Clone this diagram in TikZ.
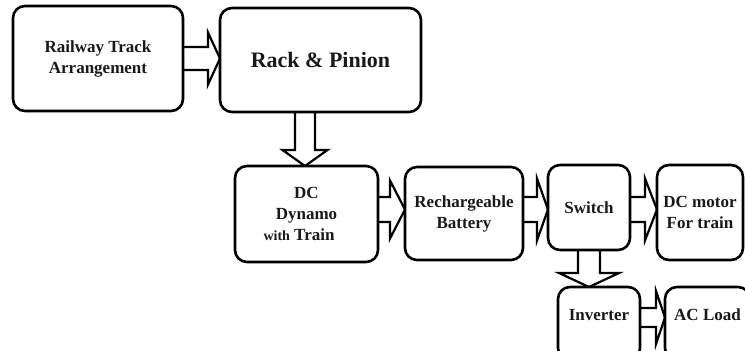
\documentclass[tikz,border=0pt]{standalone}
\usepackage{fontspec}
\setmainfont{Liberation Serif}
\usetikzlibrary{calc}
\pgfdeclarelayer{background}
\pgfsetlayers{background,main}
\tikzset{
  blockbox/.style={draw=black, fill=white, line width=2.6pt, rounded corners=12pt,
    outer sep=0pt, inner sep=0pt, align=center,
    font=\fontsize{17}{21}\selectfont\bfseries, text=black!90},
  blockarrow/.style={draw=black, fill=white, line width=2.2pt, line join=miter}
}
% horizontal block arrow: from, to, Yc, shaft half, head half, head length
\newcommand\hblk[6]{%
  \draw[blockarrow] let \p1=(#1.east), \p2=(#2.west) in
  (\x1,#3pt+#4pt) -- (\x2-#6pt,#3pt+#4pt) -- (\x2-#6pt,#3pt+#5pt) -- (\x2,#3pt)
  -- (\x2-#6pt,#3pt-#5pt) -- (\x2-#6pt,#3pt-#4pt) -- (\x1,#3pt-#4pt);}
% vertical block arrow: from, to, Xc, shaft half, head half, head length
\newcommand\vblk[6]{%
  \draw[blockarrow] let \p1=(#1.south), \p2=(#2.north) in
  (#3pt-#4pt,\y1) -- (#3pt-#4pt,\y2+#6pt) -- (#3pt-#5pt,\y2+#6pt) -- (#3pt,\y2)
  -- (#3pt+#5pt,\y2+#6pt) -- (#3pt+#4pt,\y2+#6pt) -- (#3pt+#4pt,\y1);}
\begin{document}
\begin{tikzpicture}[x=1pt,y=1pt]
\useasboundingbox (0,0) rectangle (745,351);
\clip (0,0) rectangle (745,351);

\node[blockbox, minimum width=170pt, minimum height=105pt] (rail) at (98,292.5)
  {Railway Track\\Arrangement};
\node[blockbox, minimum width=201pt, minimum height=104pt,
  font=\fontsize{22}{26}\selectfont\bfseries] (rack) at (320.5,291) {Rack \& Pinion};
\node[blockbox, minimum width=143pt, minimum height=96pt] (dyn) at (306.5,137)
  {DC\\Dynamo\\\hspace*{-15pt}{\fontsize{14}{21}\selectfont with} Train};
\node[blockbox, minimum width=118pt, minimum height=93pt] (bat) at (464,137.5)
  {Rechargeable\\Battery};
\node[blockbox, minimum width=82pt, minimum height=85pt] (sw) at (589,143.5)
  {Switch};
\node[blockbox, minimum width=86pt, minimum height=95pt] (mot) at (700,138.5)
  {DC motor\\For train};
\node[blockbox, minimum width=82pt, minimum height=73pt,
  text height=11.5pt, text depth=17pt] (inv) at (599,27.5) {Inverter};
\node[blockbox, minimum width=85pt, minimum height=73pt,
  text height=11.5pt, text depth=17pt] (ac) at (707.5,27.5) {AC Load};

\begin{pgfonlayer}{background}
\hblk{rail}{rack}{292.5}{11.5}{26}{12}
\vblk{rack}{dyn}{305}{10}{22.5}{16}
\hblk{dyn}{bat}{141.5}{12.5}{29}{15}
\hblk{bat}{sw}{141.5}{12.5}{31}{11}
\hblk{sw}{mot}{141.5}{12.5}{31}{12}
\vblk{sw}{inv}{589}{11}{30}{14}
\hblk{inv}{ac}{33.5}{9.5}{26.5}{9}
\end{pgfonlayer}
\end{tikzpicture}
\end{document}
